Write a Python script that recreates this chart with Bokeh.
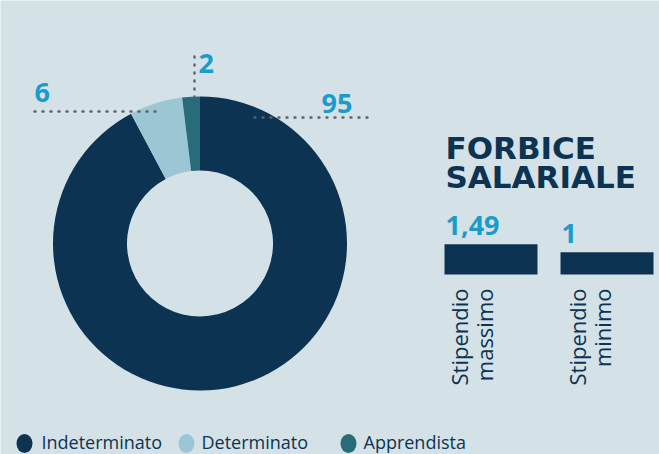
import numpy as np
from bokeh.plotting import figure
from bokeh.models import Range1d, ColumnDataSource
from bokeh.core.properties import value
from bokeh.embed import file_html
from bokeh.resources import INLINE

# ---------------- data ----------------
contract_types = ["Indeterminato", "Determinato", "Apprendista"]
contract_values = [95, 6, 2]
contract_labels = ["95", "6", "2"]

wage_categories = ["Stipendio massimo", "Stipendio minimo"]
wage_values = [1.49, 1.0]
wage_labels = ["1,49", "1"]

title_lines = ["FORBICE", "SALARIALE"]

# ---------------- style ----------------
NAVY = "#0c3352"
LIGHT = "#9dc6d5"
TEAL = "#286c79"
BG = "#d4e2e8"
ACCENT = "#1b9bcc"
DOT = "#59636c"
slice_colors = [NAVY, LIGHT, TEAL]

W, H = 659, 454


def Y(yr):
    return H - yr


p = figure(width=W, height=H, x_range=Range1d(0, W), y_range=Range1d(0, H),
           output_backend="svg", toolbar_location=None, min_border=0,
           x_axis_location=None, y_axis_location=None)
p.grid.visible = False
p.outline_line_color = None
p.background_fill_color = BG
p.border_fill_color = BG

# ---------------- donut ----------------
vals = np.array(contract_values, dtype=float)
frac = vals / vals.sum()
cum = np.concatenate([[0.0], np.cumsum(frac)])
a_start = np.pi / 2 - 2 * np.pi * cum[:-1]
a_end = np.pi / 2 - 2 * np.pi * cum[1:]

cx, cy = 199.5, Y(243)
donut = ColumnDataSource(dict(start=a_end, end=a_start, color=slice_colors,
                              name=contract_types))
p.annular_wedge(x=cx, y=cy, inner_radius=73, outer_radius=147,
                start_angle="start", end_angle="end", direction="anticlock",
                fill_color="color", line_color=None, source=donut)

# leader lines and labels
lead_x0 = [254, 34, 194]
lead_x1 = [367, 155, 194]
lead_y0 = [Y(117), Y(111), Y(56)]
lead_y1 = [Y(117), Y(111), Y(103)]
p.segment(x0=lead_x0, y0=lead_y0, x1=lead_x1, y1=lead_y1, line_color=DOT,
          line_width=2.4, line_dash="1 7", line_cap="round")

lab_x = [321, 34, 198]
lab_y = [Y(103), Y(91.5), Y(62.5)]
p.text(x=lab_x, y=lab_y, text=contract_labels, text_color=ACCENT,
       text_font=value("Open Sans"), text_font_style="bold", text_font_size="27px",
       text_baseline="middle", text_align="left")

# ---------------- title ----------------
p.text(x=[445, 445], y=[Y(147.5), Y(176.5)], text=title_lines, text_color=NAVY,
       text_font=value("DejaVu Sans"), text_font_style="bold", text_font_size="31px",
       text_baseline="middle", text_align="left")

# ---------------- wage bars ----------------
k = 16.3                 # px per unit
zero_px = Y(268)
p.extra_y_ranges = {"wage": Range1d(-zero_px / k, (H - zero_px) / k)}
bar_bottom = (Y(274) - zero_px) / k
bar_x = [490.5, 606.5]
p.vbar(x=bar_x, width=93, top=wage_values, bottom=bar_bottom, y_range_name="wage",
       fill_color=NAVY, line_color=None)
p.text(x=[445, 561], y=wage_values, text=wage_labels, y_range_name="wage",
       y_offset=-19, text_color=ACCENT, text_font=value("Open Sans"),
       text_font_style="bold", text_font_size="27px",
       text_baseline="middle", text_align="left")

# rotated category labels
col_x = [458, 576]
rx, ry, rt = [], [], []
for i, cat in enumerate(wage_categories):
    for j, word in enumerate(cat.split(" ")):
        rx.append(col_x[i] + 25 * j)
        ry.append(Y(288))
        rt.append(word)
p.text(x=rx, y=ry, text=rt, angle=np.pi / 2, text_color=NAVY,
       text_font=value("Open Sans"), text_font_size="22px",
       text_align="right", text_baseline="middle")

# ---------------- legend ----------------
leg_cx = [24, 186, 348]
leg_tx = [41, 201, 363]
p.ellipse(x=leg_cx, y=[Y(443)] * 3, width=16, height=19, fill_color=slice_colors,
          line_color=None)
p.text(x=leg_tx, y=[Y(441)] * 3, text=contract_types, text_color=NAVY,
       text_font=value("Open Sans"), text_font_size="18px",
       text_baseline="middle", text_align="left")

open("out.html", "w").write(file_html(p, INLINE))
